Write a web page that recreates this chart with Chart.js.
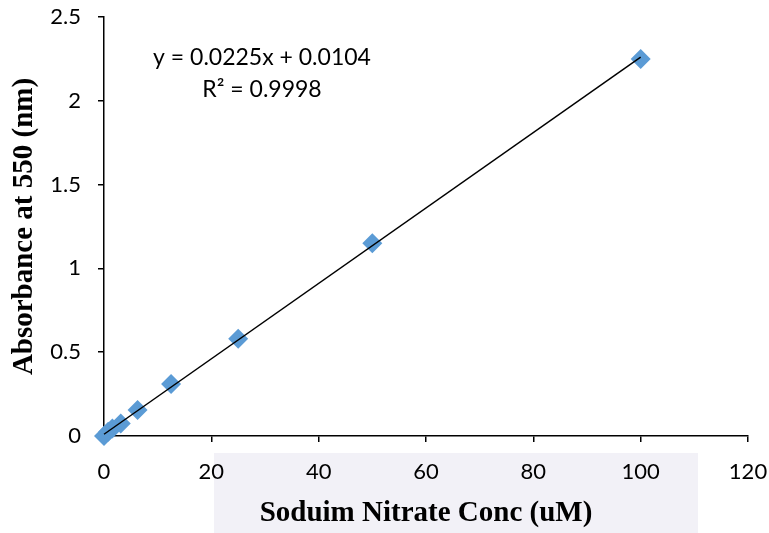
<!DOCTYPE html>
<html>
<head>
<meta charset="utf-8">
<script src="https://cdn.jsdelivr.net/npm/chart.js@4/dist/chart.umd.min.js"></script>
<style>
html,body{margin:0;padding:0;background:#fff;}
#wrap{width:769px;height:533px;position:relative;}
</style>
</head>
<body>
<div id="wrap"><canvas id="c" width="769" height="533"></canvas></div>
<script>
// Data
const concentrations = [0, 0.78, 1.56, 3.125, 6.25, 12.5, 25, 50, 100];
const absorbance = [0.0, 0.025, 0.045, 0.075, 0.155, 0.31, 0.58, 1.15, 2.25];
const trendSlope = 0.0225;
const trendIntercept = 0.0104;
const trendX = [0, 100];
const equationLines = ["y = 0.0225x + 0.0104", "R\u00b2 = 0.9998"];
const xTitle = "Soduim Nitrate Conc (uM)";
const yTitle = "Absorbance at 550 (nm)";

const points = concentrations.map((x, i) => ({x: x, y: absorbance[i]}));
const trend = trendX.map(x => ({x: x, y: trendSlope * x + trendIntercept}));

const tickFont = {family: "Lato, 'Open Sans', sans-serif", size: 22};
const titleFont = {family: "'Liberation Serif', 'Times New Roman', serif", size: 29, weight: 'bold'};

const decor = {
  id: 'decor',
  beforeDraw(chart) {
    const ctx = chart.ctx;
    ctx.save();
    ctx.fillStyle = '#fff';
    ctx.fillRect(0, 0, chart.width, chart.height);
    ctx.fillStyle = '#f2f1f7';
    ctx.fillRect(214, 453, 484, 80);
    ctx.restore();
  },
  afterDraw(chart) {
    const ctx = chart.ctx;
    ctx.save();
    ctx.fillStyle = '#000';
    ctx.font = "23px Lato, 'Open Sans', sans-serif";
    ctx.textAlign = 'center';
    ctx.textBaseline = 'middle';
    ctx.fillText(equationLines[0], 262, 58);
    ctx.fillText(equationLines[1], 262, 90);
    ctx.restore();
  }
};

new Chart(document.getElementById('c'), {
  type: 'scatter',
  data: {
    datasets: [
      {
        label: 'Linear fit',
        data: trend,
        type: 'line',
        borderColor: '#000',
        borderWidth: 1.5,
        pointRadius: 0,
        fill: false,
        tension: 0,
        clip: false
      },
      {
        label: 'Absorbance',
        data: points,
        pointStyle: 'rectRot',
        pointRadius: 10,
        backgroundColor: '#5b9bd5',
        borderColor: '#5b9bd5',
        borderWidth: 0,
        clip: false
      }
    ]
  },
  options: {
    responsive: false,
    animation: false,
    devicePixelRatio: 1,
    layout: {padding: {left: 0, right: 21, top: 17, bottom: 0}},
    plugins: {legend: {display: false}, tooltip: {enabled: false}},
    scales: {
      x: {
        type: 'linear',
        min: 0, max: 120,
        ticks: {stepSize: 20, color: '#000', font: tickFont, padding: 17, maxRotation: 0,
                callback: v => String(v)},
        grid: {drawOnChartArea: false, drawTicks: true, tickLength: 6, color: '#000', lineWidth: 1.5},
        border: {display: true, color: '#000', width: 1.5},
        title: {display: true, text: xTitle, color: '#000', font: titleFont, padding: {top: 0, bottom: 2}},
        afterFit(s) { s.height = 97; s.paddingLeft = 0; s.paddingRight = 0; }
      },
      y: {
        type: 'linear',
        min: 0, max: 2.5,
        ticks: {stepSize: 0.5, color: '#000', font: tickFont, padding: 17,
                callback: v => String(v)},
        grid: {drawOnChartArea: false, drawTicks: true, tickLength: 6, color: '#000', lineWidth: 1.5},
        border: {display: true, color: '#000', width: 1.5},
        title: {display: true, text: yTitle, color: '#000', font: titleFont, padding: {top: 7, bottom: 0}},
        afterFit(s) { s.width = 104; s.paddingTop = 0; s.paddingBottom = 0; }
      }
    }
  },
  plugins: [decor]
});
</script>
</body>
</html>
